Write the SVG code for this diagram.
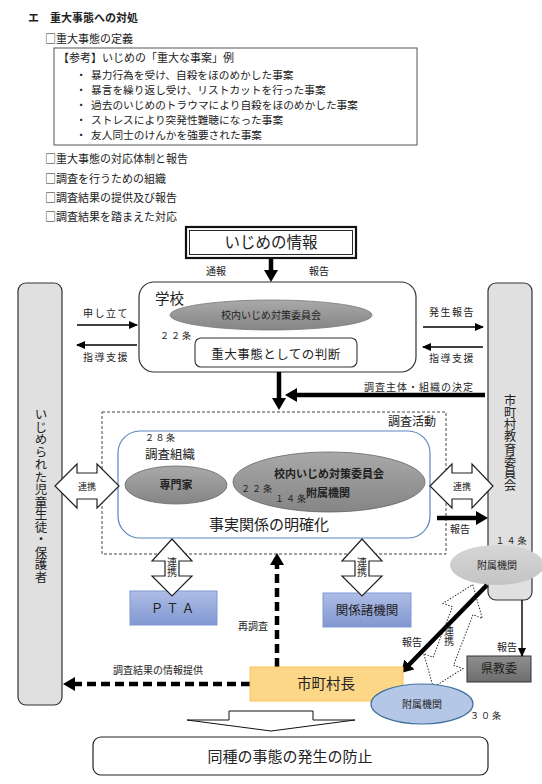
<svg xmlns="http://www.w3.org/2000/svg" width="542" height="784" viewBox="0 0 542 784">
<style>
text{font-family:"Noto Sans CJK JP","Noto Sans",sans-serif;fill:#222;}
.s11{font-size:11px;}
.sl{font-size:10.7px;}
.s10{font-size:10px;}
.s9{font-size:9px;}
.c{text-anchor:middle;}
.b{font-weight:bold;}
.v{writing-mode:vertical-rl;text-anchor:start;}
.thin{stroke:#000;stroke-width:1.4;fill:none;}
.thick{stroke:#000;stroke-width:4.5;fill:none;}
.dash{stroke:#000;stroke-width:4.5;fill:none;stroke-dasharray:9 5;}
.dbl{fill:#fff;stroke:#222;stroke-width:1.2;}
</style>
<defs>
<marker id="ah" markerUnits="userSpaceOnUse" markerWidth="9" markerHeight="8" refX="8" refY="4" orient="auto"><path d="M0,0 L9,4 L0,8 z" fill="#000"/></marker>
<marker id="ahT" markerUnits="userSpaceOnUse" markerWidth="13" markerHeight="14" refX="4" refY="7" orient="auto"><path d="M0,0 L12,7 L0,14 z" fill="#000"/></marker>
<linearGradient id="gDark" x1="0" y1="0" x2="0" y2="1"><stop offset="0" stop-color="#a9a9a9"/><stop offset="1" stop-color="#858585"/></linearGradient>
<linearGradient id="gLight" x1="0" y1="0" x2="0" y2="1"><stop offset="0" stop-color="#d6d6d6"/><stop offset="1" stop-color="#c4c4c4"/></linearGradient>
<linearGradient id="gBlue" x1="0" y1="0" x2="0" y2="1"><stop offset="0" stop-color="#aebde6"/><stop offset="1" stop-color="#8097d0"/></linearGradient>
<linearGradient id="gKen" x1="0" y1="0" x2="0" y2="1"><stop offset="0" stop-color="#8f8f8f"/><stop offset="1" stop-color="#6d6d6d"/></linearGradient>
</defs>

<g id="header">
<text x="28" y="22" class="s11 b">エ</text>
<text x="50" y="22" class="s11 b">重大事態への対処</text>
<text x="45" y="43" class="s11">□重大事態の定義</text>
<rect x="54" y="48" width="363" height="97" fill="#fff" stroke="#555" stroke-width="1"/>
<text x="58" y="62" class="s11">【参考】いじめの「重大な事案」例</text>
<text x="81" y="79" class="sl c">・</text><text x="91" y="79" class="sl">暴力行為を受け、自殺をほのめかした事案</text>
<text x="81" y="94" class="sl c">・</text><text x="91" y="94" class="sl">暴言を繰り返し受け、リストカットを行った事案</text>
<text x="81" y="109" class="sl c">・</text><text x="91" y="109" class="sl">過去のいじめのトラウマにより自殺をほのめかした事案</text>
<text x="81" y="124" class="sl c">・</text><text x="91" y="124" class="sl">ストレスにより突発性難聴になった事案</text>
<text x="81" y="139" class="sl c">・</text><text x="91" y="139" class="sl">友人同士のけんかを強要された事案</text>
<text x="45" y="163" class="s11">□重大事態の対応体制と報告</text>
<text x="45" y="183" class="s11">□調査を行うための組織</text>
<text x="45" y="202" class="s11">□調査結果の提供及び報告</text>
<text x="45" y="221" class="s11">□調査結果を踏まえた対応</text>
</g>

<g id="info">
<rect x="186" y="227" width="170" height="31" fill="#fff" stroke="#111" stroke-width="2.2"/>
<rect x="189.5" y="230.5" width="163" height="24" fill="none" stroke="#111" stroke-width="0.9"/>
<text x="271" y="248" class="c" font-size="15.5">いじめの情報</text>
</g>

<g id="victim">
<rect x="18" y="283" width="44" height="422" rx="8" fill="#e0e0e0" stroke="#333" stroke-width="1.2"/>
<text x="41" y="408" class="v" font-size="12.5">いじめられた児童生徒・保護者</text>
</g>

<g id="board">
<rect x="488" y="283" width="44" height="317" rx="8" fill="#e0e0e0" stroke="#333" stroke-width="1.2"/>
<text x="510" y="394" class="v" font-size="12.2">市町村教育委員会</text>
<text x="512" y="544" class="s9 c" letter-spacing="2">１４条</text>
</g>

<g id="school">
<rect x="139" y="282" width="277" height="90" rx="15" fill="#fff" stroke="#333" stroke-width="1.2"/>
<text x="155" y="304" font-size="14.5">学校</text>
<ellipse cx="271" cy="315" rx="101" ry="15" fill="url(#gDark)" stroke="#777" stroke-width="0.8"/>
<text x="271" y="319" class="s10 c">校内いじめ対策委員会</text>
<text x="160" y="339" class="s9" letter-spacing="2">２２条</text>
<rect x="195" y="338" width="162" height="29" rx="6" fill="#fff" stroke="#333" stroke-width="1.1"/>
<text x="276" y="359" class="c" font-size="12.5" letter-spacing="0.5">重大事態としての判断</text>
</g>

<g id="investigation">
<rect x="102" y="412" width="344" height="142" fill="none" stroke="#444" stroke-width="1" stroke-dasharray="3 2"/>
<text x="388" y="426" font-size="12">調査活動</text>
<rect x="118" y="431" width="312" height="107" rx="22" fill="#fff" stroke="#5a86bf" stroke-width="1.2"/>
<text x="145" y="441" class="s9" letter-spacing="1.5">２８条</text>
<text x="145" y="459" font-size="12.5">調査組織</text>
<ellipse cx="176" cy="485" rx="51" ry="19" fill="url(#gDark)" stroke="#666" stroke-width="0.8"/>
<text x="176" y="489" class="s11 c b">専門家</text>
<ellipse cx="329" cy="482" rx="96" ry="30" fill="url(#gDark)" stroke="#666" stroke-width="0.8"/>
<text x="329" y="478" class="s11 c b">校内いじめ対策委員会</text>
<text x="328" y="497" class="s11 c b">附属機関</text>
<text x="241" y="492" class="s9" letter-spacing="2">２２条</text>
<text x="275" y="502" class="s9" letter-spacing="2">１４条</text>
<text x="269" y="530" class="c" font-size="15">事実関係の明確化</text>
</g>

<g id="annex-board">
<ellipse cx="497" cy="565" rx="47" ry="20" fill="url(#gLight)"/>
<text x="497" y="569" class="s10 c">附属機関</text>
</g>

<g id="pta">
<rect x="130" y="591" width="87" height="34" fill="url(#gBlue)" stroke="#7f9ad6" stroke-width="1"/>
<text x="174" y="613" class="c" font-size="12.5" letter-spacing="3">ＰＴＡ</text>
</g>

<g id="related">
<rect x="323" y="593" width="88" height="34" fill="url(#gBlue)" stroke="#7f9ad6" stroke-width="1"/>
<text x="367" y="615" class="c" font-size="12.5">関係諸機関</text>
</g>

<g id="kenkyoi">
<rect x="467" y="656" width="64" height="26" fill="url(#gKen)" stroke="#333" stroke-width="1"/>
<text x="499" y="673" class="c" font-size="12">県教委</text>
</g>

<g id="connectors">
<line x1="271" y1="259" x2="271" y2="274" class="thick" marker-end="url(#ahT)"/>
<text x="216" y="275" class="s10 c">通報</text>
<text x="319" y="275" class="s10 c">報告</text>

<line x1="77" y1="325" x2="137" y2="325" class="thin" marker-end="url(#ah)"/>
<text x="106" y="317" class="s10 c" letter-spacing="1.5">申し立て</text>
<line x1="137" y1="345" x2="77" y2="345" class="thin" marker-end="url(#ah)"/>
<text x="106" y="361" class="s10 c" letter-spacing="1.5">指導支援</text>

<line x1="423" y1="327" x2="483" y2="327" class="thin" marker-end="url(#ah)"/>
<text x="452" y="316" class="s10 c" letter-spacing="1.5">発生報告</text>
<line x1="483" y1="347" x2="423" y2="347" class="thin" marker-end="url(#ah)"/>
<text x="452" y="362" class="s10 c" letter-spacing="1.5">指導支援</text>

<line x1="279" y1="372" x2="279" y2="402" class="thick" marker-end="url(#ahT)"/>
<line x1="485" y1="395" x2="293" y2="395" class="thick" marker-end="url(#ahT)"/>
<text x="419" y="391" class="s10 c" letter-spacing="1">調査主体・組織の決定</text>

<polygon points="55,486 77,464 77,473 97,473 97,464 119,486 97,508 97,499 77,499 77,508" class="dbl"/>
<text x="87" y="490" class="s9 c">連携</text>
<polygon points="430,486 452,464 452,473 472,473 472,464 493,486 472,508 472,499 452,499 452,508" class="dbl"/>
<text x="462" y="490" class="s9 c">連携</text>

<line x1="437" y1="518" x2="480" y2="518" class="thick" marker-end="url(#ahT)"/>
<text x="460" y="533" class="s10 c">報告</text>

<polygon points="172,539 192,561 179,561 179,576 192,576 172,596 152,576 165,576 165,561 152,561" class="dbl"/>
<text x="172" y="557" class="s10 v">連携</text>
<polygon points="362,539 382,561 369,561 369,576 382,576 362,596 342,576 355,576 355,561 342,561" class="dbl"/>
<text x="362" y="557" class="s10 v">連携</text>

<line x1="277" y1="667" x2="277" y2="561" class="dash" marker-end="url(#ahT)"/>
<text x="253" y="630" class="s10 c">再調査</text>
<line x1="250" y1="684" x2="71" y2="684" class="dash" marker-end="url(#ahT)"/>
<text x="158" y="674" class="s10 c">調査結果の情報提供</text>

<line x1="522" y1="600" x2="522" y2="656" class="thin" marker-end="url(#ah)"/>
<text x="507" y="651" class="s10 c">報告</text>

<polygon transform="translate(453,636) rotate(21)" points="0,-55 21,-27 11,-27 11,27 21,27 0,55 -21,27 -11,27 -11,-27 -21,-27" fill="#fff" stroke="#333" stroke-width="1" stroke-dasharray="1.5 1.5"/>
<line x1="487" y1="585" x2="406.6" y2="667.3" class="thick" marker-end="url(#ahT)"/>
<text x="412" y="646" class="s10 c">報告</text>
<text x="449" y="626" class="s10 v">連携</text>

<polygon points="229,711 313,711 313,720 355,720 271,731 187,720 229,720" fill="#fff" stroke="#111" stroke-width="1"/>
</g>

<g id="mayor">
<rect x="250" y="667" width="153" height="34" fill="#fdd788" stroke="#fcc65a" stroke-width="1"/>
<text x="326" y="689" class="c" font-size="14.5">市町村長</text>
</g>

<g id="annex-mayor">
<ellipse cx="422" cy="704" rx="51" ry="20" fill="#b4c7e7" stroke="#41719c" stroke-width="1.2"/>
<text x="422" y="708" class="s10 c">附属機関</text>
<text x="470" y="719" class="s9" letter-spacing="2">３０条</text>
</g>

<g id="prevention">
<rect x="93" y="737" width="395" height="38" rx="8" fill="#fff" stroke="#222" stroke-width="1.2"/>
<text x="290" y="762" class="c" font-size="15">同種の事態の発生の防止</text>
</g>
</svg>
